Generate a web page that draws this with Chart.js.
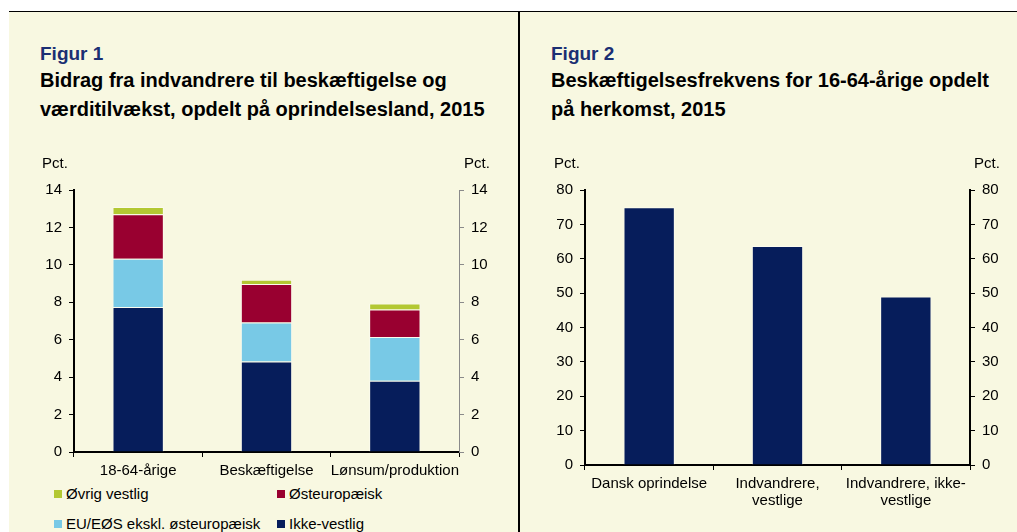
<!DOCTYPE html>
<html>
<head>
<meta charset="utf-8">
<script src="https://cdn.jsdelivr.net/npm/chart.js@4"></script>
<style>
  html, body { margin: 0; padding: 0; background: #fff; }
  body { width: 1017px; height: 532px; position: relative; overflow: hidden; font-family: "Liberation Sans", Arial, sans-serif; }
  #panel { position: absolute; left: 9px; top: 11px; width: 1008px; height: 521px; background: #F8F8E1; border-top: 1.5px solid #000; }
  #divider { position: absolute; left: 518px; top: 11px; width: 2px; height: 521px; background: #000; }
  .fig { position: absolute; font-weight: bold; font-size: 19px; color: #1B2F73; line-height: 22px; }
  .title { position: absolute; font-weight: bold; font-size: 20px; color: #000; line-height: 28.5px; }
  .wrap { position: absolute; }
  #legend { position: absolute; left: 54px; top: 485px; width: 460px; font-size: 15px; color: #000; }
  .li { position: absolute; white-space: nowrap; }
  .sq { display: inline-block; width: 8px; height: 8px; margin-right: 4px; vertical-align: 1px; }
</style>
</head>
<body>
<div id="panel"></div>
<div id="divider"></div>

<div class="fig" style="left:40px; top:43px;">Figur 1</div>
<div class="title" style="left:40px; top:66px;">Bidrag fra indvandrere til beskæftigelse og<br>værditilvækst, opdelt på oprindelsesland, 2015</div>

<div class="fig" style="left:551px; top:43px;">Figur 2</div>
<div class="title" style="left:551px; top:66px;">Beskæftigelsesfrekvens for 16-64-årige opdelt<br>på herkomst, 2015</div>

<div class="wrap" style="left:20px; top:150px; width:480px; height:330px;"><canvas id="chart1"></canvas></div>
<div id="legend"></div>
<div class="wrap" style="left:520px; top:150px; width:497px; height:382px;"><canvas id="chart2"></canvas></div>

<script>
// Figur 1 – bidrag fra indvandrere (pct.)
const kategorier1 = ["18-64-årige", "Beskæftigelse", "Lønsum/produktion"];
const ikkeVestlig = [7.75, 4.83, 3.81];
const euEos = [2.57, 2.09, 2.33];
const osteuropaeisk = [2.39, 2.06, 1.48];
const ovrigVestlig = [0.38, 0.23, 0.32];
const ticks1 = [0, 2, 4, 6, 8, 10, 12, 14];

// Figur 2 – beskæftigelsesfrekvens (pct.)
const kategorier2 = [["Dansk oprindelse"], ["Indvandrere,", "vestlige"], ["Indvandrere, ikke-", "vestlige"]];
const frekvens = [75.0, 63.7, 49.0];
const ticks2 = [0, 10, 20, 30, 40, 50, 60, 70, 80];

const NAVY = "#061D5B";
const LYSBLA = "#78C9E6";
const ROD = "#990030";
const GRON = "#B3C832";
const FONT = "'Liberation Sans', Arial, sans-serif";

Chart.defaults.font.family = FONT;
Chart.defaults.font.size = 15;
Chart.defaults.color = "#000";
Chart.defaults.animation = false;

// tegner "Pct." over begge y-akser
const pctLabels = {
  id: "pctLabels",
  afterDraw(chart, args, opts) {
    const ctx = chart.ctx;
    ctx.save();
    ctx.font = "15px " + FONT;
    ctx.fillStyle = "#000";
    ctx.textAlign = "center";
    ctx.textBaseline = "middle";
    ctx.fillText("Pct.", opts.left, 14);
    ctx.fillText("Pct.", opts.right, 14);
    ctx.restore();
  }
};

function yAkse(pos, width, max, tickList, borderColor, borderWidth) {
  return {
    position: pos,
    min: 0,
    max: max,
    afterBuildTicks: s => { s.ticks = tickList.map(v => ({ value: v })); },
    afterFit: s => { s.width = width; },
    grid: { drawOnChartArea: false, drawTicks: true, tickLength: 5, color: borderColor, lineWidth: 1 },
    border: { display: true, color: borderColor, width: borderWidth },
    ticks: { padding: 7, font: { size: 15 } }
  };
}

function xAkse(height) {
  return {
    afterFit: s => { s.height = height; },
    grid: { drawOnChartArea: false, drawTicks: true, tickLength: 5, color: "#000", offset: true },
    border: { display: true, color: "#000", width: 2 },
    ticks: { padding: 5, maxRotation: 0, autoSkip: false, font: { size: 15, lineHeight: 1.17 } }
  };
}

const serier1 = [
  { label: "Ikke-vestlig", data: ikkeVestlig, backgroundColor: NAVY },
  { label: "EU/EØS ekskl. østeuropæisk", data: euEos, backgroundColor: LYSBLA },
  { label: "Østeuropæisk", data: osteuropaeisk, backgroundColor: ROD },
  { label: "Øvrig vestlig", data: ovrigVestlig, backgroundColor: GRON }
];

const chart1 = new Chart(document.getElementById("chart1"), {
  type: "bar",
  data: {
    labels: kategorier1,
    datasets: serier1.map(s => ({
      ...s,
      borderColor: "rgba(255,255,255,0.45)",
      borderWidth: 1,
      categoryPercentage: 1,
      barPercentage: 0.4,
      yAxisID: "y"
    }))
  },
  options: {
    responsive: true,
    maintainAspectRatio: false,
    layout: { padding: { top: 40, left: 0, right: 0, bottom: 0 } },
    plugins: {
      legend: { display: false },
      tooltip: { enabled: false },
      pctLabels: { left: 35, right: 457 }
    },
    scales: {
      x: { ...xAkse(28), stacked: true },
      y: { ...yAkse("left", 54, 14, ticks1, "#000", 2), stacked: true },
      y2: { ...yAkse("right", 41, 14, ticks1, "#8a8a8a", 1), stacked: true }
    }
  },
  plugins: [pctLabels]
});

// legende i 2x2 – bygget ud fra datasættene (omvendt rækkefølge)
const legendEl = document.getElementById("legend");
const pos = [[0, 0], [223, 0], [0, 30], [223, 30]];
serier1.slice().reverse().forEach((s, i) => {
  const d = document.createElement("div");
  d.className = "li";
  d.style.left = pos[i][0] + "px";
  d.style.top = pos[i][1] + "px";
  d.innerHTML = `<span class="sq" style="background:${s.backgroundColor}"></span>${s.label}`;
  legendEl.appendChild(d);
});

const chart2 = new Chart(document.getElementById("chart2"), {
  type: "bar",
  data: {
    labels: kategorier2,
    datasets: [{
      label: "Beskæftigelsesfrekvens",
      data: frekvens,
      backgroundColor: NAVY,
      borderColor: "rgba(255,255,255,0.45)",
      borderWidth: 1,
      categoryPercentage: 1,
      barPercentage: 0.4
    }]
  },
  options: {
    responsive: true,
    maintainAspectRatio: false,
    layout: { padding: { top: 40, left: 0, right: 0, bottom: 0 } },
    plugins: {
      legend: { display: false },
      tooltip: { enabled: false },
      pctLabels: { left: 47, right: 467 }
    },
    scales: {
      x: xAkse(67),
      y: yAkse("left", 65, 80, ticks2, "#000", 2),
      y2: yAkse("right", 47, 80, ticks2, "#000", 2)
    }
  },
  plugins: [pctLabels]
});
</script>
</body>
</html>
